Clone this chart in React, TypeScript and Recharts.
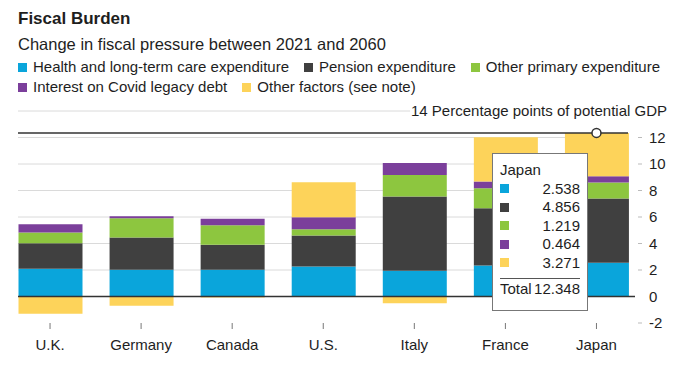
import React from 'react';
import {
  BarChart,
  Bar,
  XAxis,
  YAxis,
  CartesianGrid,
  ReferenceLine,
  ReferenceDot,
  Tooltip,
} from 'recharts';

// ---- data ----
const countries = ['U.K.', 'Germany', 'Canada', 'U.S.', 'Italy', 'France', 'Japan'];
const health = [2.09, 2.01, 2.01, 2.26, 1.94, 2.34, 2.538];
const pension = [1.93, 2.44, 1.89, 2.34, 5.6, 4.32, 4.856];
const otherPrimary = [0.81, 1.46, 1.48, 0.48, 1.63, 1.51, 1.219];
const covidInterest = [0.63, 0.15, 0.48, 0.9, 0.91, 0.5, 0.464];
const otherFactors = [-1.3, -0.7, -0.08, 2.64, -0.5, 3.34, 3.271];
const yTicks = [-2, 0, 2, 4, 6, 8, 10, 12, 14];
const gridValues = [2, 4, 6, 8, 10, 12, 14];
const highlightIndex = 6;
const title = 'Fiscal Burden';
const subtitle = 'Change in fiscal pressure between 2021 and 2060';
const unitLabel = 'Percentage points of potential GDP';

const series = [
  { key: 'health', name: 'Health and long-term care expenditure', color: '#0aa5db', values: health },
  { key: 'pension', name: 'Pension expenditure', color: '#404040', values: pension },
  { key: 'otherPrimary', name: 'Other primary expenditure', color: '#8dc63f', values: otherPrimary },
  { key: 'covidInterest', name: 'Interest on Covid legacy debt', color: '#7b3f9b', values: covidInterest },
  { key: 'otherFactors', name: 'Other factors (see note)', color: '#fdd35a', values: otherFactors },
];
const legendRows = [series.slice(0, 3), series.slice(3)];

const data = countries.map((c, i) => {
  const row: Record<string, any> = { country: c };
  series.forEach((s) => {
    row[s.key] = s.values[i];
  });
  return row;
});

const totalOf = (i: number) => series.reduce((a, s) => a + s.values[i], 0);
const highlightTotal = totalOf(highlightIndex);

const FONT = '"Liberation Sans", Arial, Helvetica, sans-serif';
const TEXT = '#1e1e1e';

const YTick = (props: any) => {
  const { x, y, payload } = props;
  const v = payload.value;
  if (v === 14) {
    return (
      <g>
        <rect x={410} y={y - 10} width={270} height={20} fill="#fff" />
        <text x={667} y={y} dy="0.355em" textAnchor="end" fontSize={15} fill={TEXT} fontFamily={FONT}>
          {`14 ${unitLabel}`}
        </text>
      </g>
    );
  }
  return (
    <g>
      {v === 0 ? (
        <line x1={x - 21} x2={x - 14} y1={y} y2={y} stroke="#333" strokeWidth={1.5} />
      ) : (
        <line x1={x - 11} x2={x - 7} y1={y} y2={y} stroke="#bbb" strokeWidth={1} />
      )}
      <text x={x} y={y} dy="0.355em" textAnchor="start" fontSize={15} fill={TEXT} fontFamily={FONT}>
        {v}
      </text>
    </g>
  );
};

const TooltipBox = (props: any) => {
  const idx = countries.indexOf(props.label) >= 0 ? countries.indexOf(props.label) : highlightIndex;
  return (
    <div
      style={{
        width: 96,
        height: 158,
        boxSizing: 'border-box',
        background: '#fff',
        border: '1px solid #777',
        padding: '7px 7px 0 7px',
        fontFamily: FONT,
        fontSize: 15,
        color: TEXT,
        lineHeight: '18.5px',
      }}
    >
      <div>{countries[idx]}</div>
      {series.map((s) => (
        <div key={s.key} style={{ display: 'flex', alignItems: 'center', justifyContent: 'space-between' }}>
          <span style={{ width: 9, height: 9, background: s.color, display: 'inline-block' }} />
          <span>{s.values[idx].toFixed(3)}</span>
        </div>
      ))}
      <div style={{ borderTop: '1px solid #555', marginTop: 6, paddingTop: 1, display: 'flex', justifyContent: 'space-between' }}>
        <span>Total</span>
        <span>{totalOf(idx).toFixed(3)}</span>
      </div>
    </div>
  );
};

export default function App() {
  return (
    <div style={{ position: 'absolute', left: 0, top: 0, width: 680, height: 366, background: '#fff', fontFamily: FONT, color: TEXT }}>
      <div style={{ position: 'absolute', left: 18, top: 9, fontSize: 17, fontWeight: 700, lineHeight: '20px' }}>{title}</div>
      <div style={{ position: 'absolute', left: 18, top: 34, fontSize: 16.5, lineHeight: '20px' }}>{subtitle}</div>
      {legendRows.map((row, ri) => (
        <div
          key={ri}
          style={{ position: 'absolute', left: 18, top: 57 + ri * 20, display: 'flex', gap: 15, fontSize: 15, lineHeight: '20px', whiteSpace: 'nowrap' }}
        >
          {row.map((s) => (
            <div key={s.key} style={{ display: 'flex', alignItems: 'center' }}>
              <span style={{ width: 9, height: 9, background: s.color, display: 'inline-block', marginRight: 6 }} />
              <span>{s.name}</span>
            </div>
          ))}
        </div>
      ))}
      <div style={{ position: 'absolute', left: 0, top: 0 }}>
        <BarChart
          width={680}
          height={366}
          data={data}
          stackOffset="sign"
          margin={{ top: 111, right: 0, bottom: 0, left: 18 }}
          barSize={64}
        >
          <CartesianGrid horizontal vertical={false} horizontalValues={gridValues} stroke="#dadada" />
          <XAxis
            dataKey="country"
            axisLine={false}
            tickLine={{ stroke: '#777' }}
            tickSize={6}
            tickMargin={10}
            height={43}
            padding={{ left: -13.5, right: -14 }}
            tick={{ fontSize: 15, fill: TEXT, fontFamily: FONT }}
            interval={0}
          />
          <YAxis
            orientation="right"
            domain={[-2, 14]}
            ticks={yTicks}
            width={52}
            axisLine={false}
            tickLine={false}
            tickSize={0}
            tickMargin={21}
            tick={<YTick />}
            interval={0}
          />
          <ReferenceLine y={0} stroke="#333" strokeWidth={1.5} />
          {series.map((s) => (
            <Bar key={s.key} dataKey={s.key} stackId="a" fill={s.color} isAnimationActive={false} />
          ))}
          <ReferenceLine y={highlightTotal} stroke="#333" strokeWidth={1.5} />
          <ReferenceDot
            x={countries[highlightIndex]}
            y={highlightTotal}
            r={4.5}
            fill="#fff"
            stroke="#333"
            strokeWidth={1.5}
          />
          <Tooltip
            active
            defaultIndex={highlightIndex}
            position={{ x: 492, y: 153 }}
            cursor={false}
            isAnimationActive={false}
            content={<TooltipBox />}
            wrapperStyle={{ outline: 'none' }}
          />
        </BarChart>
      </div>
    </div>
  );
}
